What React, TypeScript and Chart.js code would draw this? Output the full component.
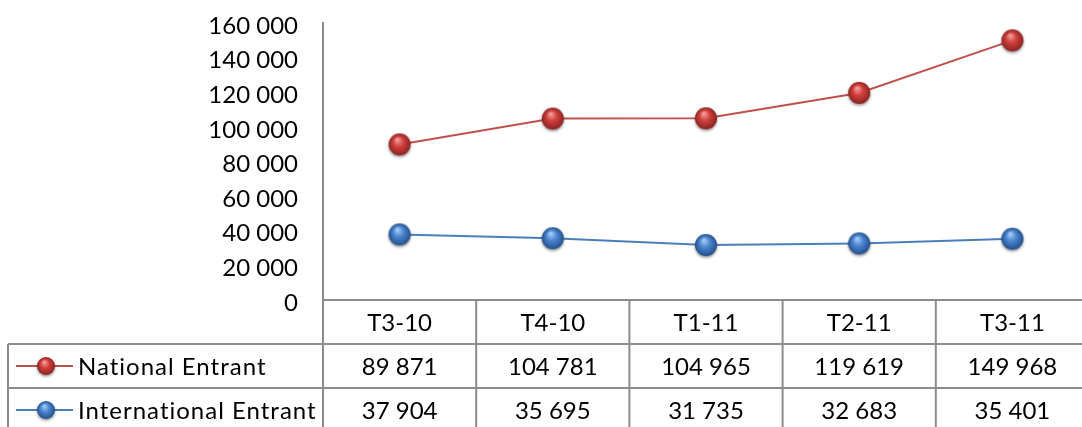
import { useEffect, useRef } from 'react';
import { Chart, registerables } from 'chart.js';

Chart.register(...registerables);

const categories = ['T3-10', 'T4-10', 'T1-11', 'T2-11', 'T3-11'];
const seriesNames = ['National Entrant', 'International Entrant'];
const nationalValues = [89871, 104781, 104965, 119619, 149968];
const internationalValues = [37904, 35695, 31735, 32683, 35401];
const yMin = 0;
const yMax = 160000;
const yStep = 20000;

const FONT = 'Lato, "Open Sans", sans-serif';
const GRID = '#8c8c8c';
const RED = '#c0504d';
const BLUE = '#4a7ebb';

function fmt(v: number): string {
  return String(v).replace(/\B(?=(\d{3})+(?!\d))/g, ' ');
}

function makeSphere(r: number, light: string, mid: string, dark: string): HTMLCanvasElement {
  const pad = 5;
  const size = 2 * r + 2 * pad;
  const c = document.createElement('canvas');
  c.width = size;
  c.height = size;
  const ctx = c.getContext('2d')!;
  const cx = size / 2;
  const cy = size / 2;
  ctx.shadowColor = 'rgba(0,0,0,0.45)';
  ctx.shadowBlur = 3;
  ctx.shadowOffsetY = 1.5;
  const g = ctx.createRadialGradient(cx - r * 0.2, cy - r * 0.45, r * 0.05, cx, cy, r);
  g.addColorStop(0, light);
  g.addColorStop(0.45, mid);
  g.addColorStop(1, dark);
  ctx.fillStyle = g;
  ctx.beginPath();
  ctx.arc(cx, cy, r, 0, Math.PI * 2);
  ctx.fill();
  return c;
}

export default function App() {
  const ref = useRef<HTMLCanvasElement>(null);

  useEffect(() => {
    const canvas = ref.current!;
    const redSphere = makeSphere(11, '#f4a09c', '#d0403c', '#8c2420');
    const blueSphere = makeSphere(11, '#a8cdf6', '#4a86d0', '#24508c');
    const redSmall = makeSphere(9, '#f4a09c', '#d0403c', '#8c2420');
    const blueSmall = makeSphere(9, '#a8cdf6', '#4a86d0', '#24508c');

    const rowH = 44;
    const tableLeft = 8;

    const tablePlugin = {
      id: 'dataTable',
      afterDraw(chart: any) {
        const ctx = chart.ctx as CanvasRenderingContext2D;
        const area = chart.chartArea;
        const xs = chart.scales.x;
        const n = categories.length;
        const centers = categories.map((_, i) => xs.getPixelForValue(i));
        const colW = n > 1 ? centers[1] - centers[0] : area.right - area.left;
        const bounds = [centers[0] - colW / 2, ...centers.map((c) => c + colW / 2)];
        const y0 = area.bottom;
        const y1 = y0 + rowH;
        const y2 = y1 + rowH;
        const y3 = y2 + rowH;
        ctx.save();
        ctx.strokeStyle = GRID;
        ctx.lineWidth = 2;
        ctx.beginPath();
        ctx.moveTo(bounds[0], y0);
        ctx.lineTo(bounds[n] + 2, y0);
        [y1, y2, y3].forEach((y) => {
          ctx.moveTo(tableLeft, y);
          ctx.lineTo(bounds[n] + 2, y);
        });
        ctx.moveTo(tableLeft, y1);
        ctx.lineTo(tableLeft, y3);
        bounds.forEach((b) => {
          ctx.moveTo(b, y0);
          ctx.lineTo(b, y3);
        });
        ctx.stroke();

        ctx.fillStyle = '#000';
        ctx.font = `24px ${FONT}`;
        ctx.textAlign = 'center';
        ctx.textBaseline = 'middle';
        categories.forEach((c, i) => ctx.fillText(c, centers[i], y0 + rowH / 2 + 1));
        nationalValues.forEach((v, i) => ctx.fillText(fmt(v), centers[i], y1 + rowH / 2 + 1));
        internationalValues.forEach((v, i) => ctx.fillText(fmt(v), centers[i], y2 + rowH / 2 + 1));

        const rows = [
          { name: seriesNames[0], color: RED, img: redSmall, y: y1 + rowH / 2 },
          { name: seriesNames[1], color: BLUE, img: blueSmall, y: y2 + rowH / 2 },
        ];
        rows.forEach((r) => {
          ctx.strokeStyle = r.color;
          ctx.lineWidth = 2;
          ctx.beginPath();
          ctx.moveTo(16, r.y);
          ctx.lineTo(73, r.y);
          ctx.stroke();
          ctx.drawImage(r.img, 46 - r.img.width / 2, r.y - r.img.height / 2);
          ctx.textAlign = 'left';
          ctx.fillStyle = '#000';
          (ctx as any).letterSpacing = '1px';
          ctx.fillText(r.name, 78, r.y + 1);
          (ctx as any).letterSpacing = '0px';
        });
        ctx.restore();
      },
    };

    const chart = new Chart(canvas, {
      type: 'line',
      data: {
        labels: categories,
        datasets: [
          {
            label: seriesNames[0],
            data: nationalValues,
            borderColor: RED,
            borderWidth: 2,
            pointStyle: redSphere as any,
            pointRadius: 11,
            tension: 0,
          },
          {
            label: seriesNames[1],
            data: internationalValues,
            borderColor: BLUE,
            borderWidth: 2,
            pointStyle: blueSphere as any,
            pointRadius: 11,
            tension: 0,
          },
        ],
      },
      options: {
        responsive: false,
        animation: false,
        layout: { padding: { left: 0, top: 23, right: 2, bottom: 140 } },
        plugins: { legend: { display: false }, tooltip: { enabled: false } },
        scales: {
          x: {
            type: 'category',
            display: false,
            offset: true,
            afterFit: (s: any) => {
              s.paddingLeft = 0;
              s.paddingRight = 0;
            },
          },
          y: {
            min: yMin,
            max: yMax,
            afterFit: (s: any) => {
              s.width = 323;
              s.paddingTop = 0;
              s.paddingBottom = 0;
            },
            ticks: {
              stepSize: yStep,
              padding: 25,
              labelOffset: 3,
              color: '#000',
              font: { family: FONT, size: 24 },
              callback: (v: any) => fmt(Number(v)),
            },
            grid: { display: false, drawTicks: false },
            border: { display: true, color: GRID, width: 2 },
          },
        },
      },
      plugins: [tablePlugin],
    });
    return () => chart.destroy();
  }, []);

  return (
    <div style={{ position: 'fixed', left: 0, top: 0, width: 1082, height: 427, overflow: 'hidden', background: '#fff' }}>
      <canvas ref={ref} width={1102} height={440} style={{ width: 1102, height: 440, display: 'block' }} />
    </div>
  );
}
